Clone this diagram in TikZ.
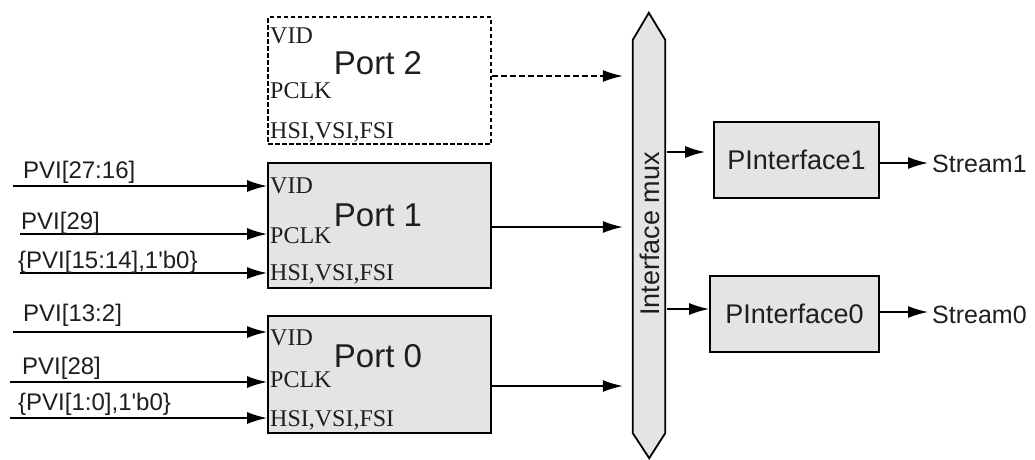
\documentclass[tikz,border=0pt]{standalone}
\usepackage{fontspec}
\setmainfont{Liberation Serif}
\setsansfont{Liberation Sans}
\usetikzlibrary{arrows.meta,positioning,calc}
\definecolor{boxgray}{HTML}{E4E4E4}
\definecolor{inkgray}{HTML}{1E1E1E}
\tikzset{
  port/.style={draw, line width=1.8pt, fill=boxgray, inner sep=0pt, minimum width=223pt},
  portname/.style={font=\sffamily\fontsize{33}{33}\selectfont, text=inkgray, inner sep=0pt, anchor=base},
  pin/.style={font=\fontsize{24}{24}\selectfont, text=inkgray, inner sep=0pt, anchor=base west},
  pvi/.style={font=\sffamily\fontsize{24}{24}\selectfont, text=inkgray, inner sep=0pt, anchor=base west},
  pif/.style={draw, line width=1.8pt, fill=boxgray, inner sep=0pt, minimum height=76pt, font=\sffamily\fontsize{27}{27}\selectfont, text=inkgray},
  stream/.style={font=\sffamily\fontsize{25}{25}\selectfont, text=inkgray, inner sep=0pt, anchor=base west},
  sig/.style={line width=1.6pt, -{Latex[length=20pt,width=12pt]}},
  portdash/.style={dash pattern=on 4.5pt off 2.5pt},
  linkdash/.style={dash pattern=on 6pt off 3pt}
}

\begin{document}
\begin{tikzpicture}[x=1pt, y=-1pt]
\useasboundingbox (0,0) rectangle (1035,459);

% port blocks
\node[port, portdash, fill=none, line width=1.5pt, minimum height=127pt] (port2) at (379.5,80.5) {};
\node[port, minimum height=125pt] (port1) at (379.5,225.5) {};
\node[port, minimum height=117pt] (port0) at (379.5,374.5) {};

\node[portname] (port2name) at (378,74) {Port 2};
\node[portname] (port1name) at (378,226) {Port 1};
\node[portname] (port0name) at (378,367) {Port 0};

\node[pin] (port2vid) at (270,43) {VID};
\node[pin] (port2pclk) at (270,98) {PCLK};
\node[pin] (port2sync) at (270,138) {HSI,VSI,FSI};
\node[pin] (port1vid) at (270,193) {VID};
\node[pin] (port1pclk) at (270,243) {PCLK};
\node[pin] (port1sync) at (270,280) {HSI,VSI,FSI};
\node[pin] (port0vid) at (270,345) {VID};
\node[pin] (port0pclk) at (270,387) {PCLK};
\node[pin] (port0sync) at (270,426) {HSI,VSI,FSI};

% inputs
\coordinate (in1vid) at (13,186);
\coordinate (in1pclk) at (20,234);
\coordinate (in1sync) at (20,273);
\coordinate (in0vid) at (13,332);
\coordinate (in0pclk) at (10,382);
\coordinate (in0sync) at (10,418);
\draw[sig] (in1vid) -- (in1vid -| port1.west);
\draw[sig] (in1pclk) -- (in1pclk -| port1.west);
\draw[sig] (in1sync) -- (in1sync -| port1.west);
\draw[sig] (in0vid) -- (in0vid -| port0.west);
\draw[sig] (in0pclk) -- (in0pclk -| port0.west);
\draw[sig] (in0sync) -- (in0sync -| port0.west);
\node[pvi] (in1vidtext) at (23,178) {PVI[27:16]};
\node[pvi] (in1pclktext) at (21,229) {PVI[29]};
\node[pvi] (in1synctext) at (18,268) {\{PVI[15:14],1\textquotesingle b0\}};
\node[pvi] (in0vidtext) at (23,321) {PVI[13:2]};
\node[pvi] (in0pclktext) at (22,374) {PVI[28]};
\node[pvi] (in0synctext) at (18,410) {\{PVI[1:0],1\textquotesingle b0\}};

% interface mux
\node[inner sep=0pt, minimum width=32pt, minimum height=393pt] (mux) at (649,236.5) {};
\draw[line width=1.8pt, fill=boxgray] (mux.north west) -- ++(16,-27) -- (mux.north east)
  -- (mux.south east) -- ++(-16,25) -- (mux.south west) -- cycle;
\node[rotate=90, inner sep=0pt, font=\sffamily\fontsize{27}{27}\selectfont, text=inkgray] (muxname) at (650,234) {Interface mux};

\draw[sig, linkdash] (port2.east |- 0,76) -- (mux.west |- 0,76) [shorten >=10pt];
\draw[sig] (port1.east |- 0,227) -- (mux.west |- 0,227) [shorten >=10pt];
\draw[sig] (port0.east |- 0,386) -- (mux.west |- 0,386) [shorten >=10pt];

% parallel interfaces
\node[pif, minimum width=165pt] (pif1) at (796.5,160) {PInterface1};
\node[pif, minimum width=169pt] (pif0) at (794.5,314) {PInterface0};
\draw[sig, shorten >=8pt] ($(mux.east |- 0,152)+(2,0)$) -- (pif1.west |- 0,152);
\draw[sig] ($(mux.east |- 0,309)+(2,0)$) -- (pif0.west |- 0,309);

\node[stream] (stream1) at (932,172) {Stream1};
\node[stream] (stream0) at (932,323) {Stream0};
\draw[sig, shorten >=4pt] (pif1.east |- 0,163) -- (stream1.west |- 0,163);
\draw[sig, shorten >=4pt] (pif0.east |- 0,312) -- (stream0.west |- 0,312);
\end{tikzpicture}
\end{document}
